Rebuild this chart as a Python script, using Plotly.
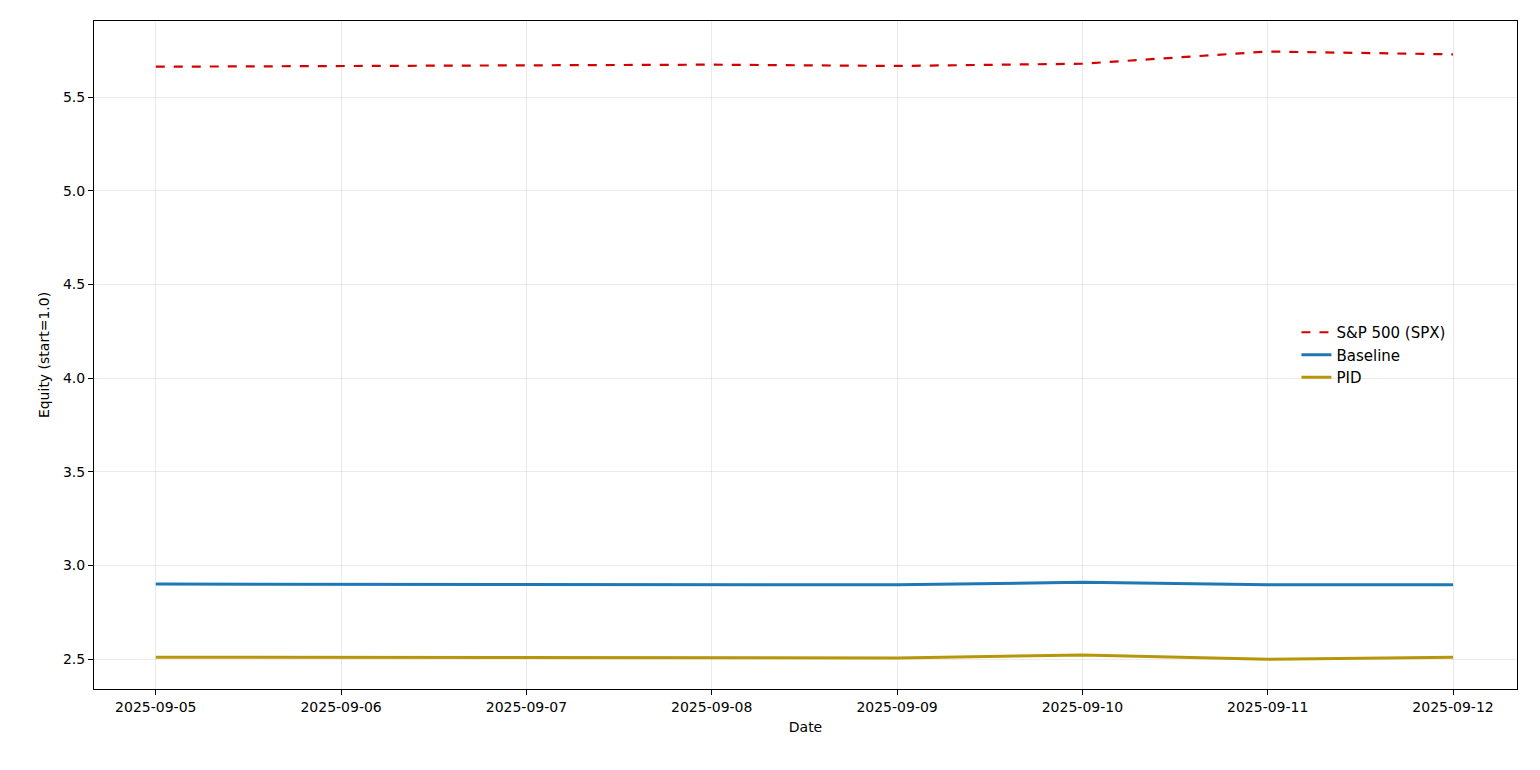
import plotly.graph_objects as go

dates = ['2025-09-05', '2025-09-06', '2025-09-07', '2025-09-08',
         '2025-09-09', '2025-09-10', '2025-09-11', '2025-09-12']
spx = [5.662, 5.665, 5.668, 5.673, 5.666, 5.678, 5.743, 5.728]
baseline = [2.900, 2.900, 2.900, 2.900, 2.896, 2.910, 2.897, 2.897]
pid = [2.510, 2.510, 2.510, 2.510, 2.506, 2.522, 2.499, 2.509]

fig = go.Figure()
fig.add_trace(go.Scatter(x=dates, y=spx, mode='lines', name='S&P 500 (SPX)',
                         line=dict(color='#d40000', width=2.2, dash='dash')))
fig.add_trace(go.Scatter(x=dates, y=baseline, mode='lines', name='Baseline',
                         line=dict(color='#1f77b4', width=3)))
fig.add_trace(go.Scatter(x=dates, y=pid, mode='lines', name='PID',
                         line=dict(color='#b8960a', width=3)))

axis_style = dict(showline=True, linecolor='black', linewidth=1, mirror=True,
                  ticks='outside', ticklen=5, tickcolor='black',
                  showgrid=True, gridcolor='rgba(0,0,0,0.08)', zeroline=False,
                  tickfont=dict(size=14))

fig.update_xaxes(type='date', range=['2025-09-04 16:00', '2025-09-12 08:17'],
                 tickvals=dates, ticktext=dates,
                 title=dict(text='Date', font=dict(size=14), standoff=8), **axis_style)
fig.update_yaxes(range=[2.34, 5.906], tick0=2.5, dtick=0.5, tickformat='.1f',
                 title=dict(text='Equity (start=1.0)', font=dict(size=14), standoff=10),
                 **axis_style)

fig.update_layout(width=1540, height=770, autosize=False,
                  margin=dict(l=86, r=31, t=13, b=89),
                  plot_bgcolor='white', paper_bgcolor='white',
                  font=dict(family='DejaVu Sans', size=14, color='black'),
                  legend=dict(x=0.845, y=0.5, xanchor='left', yanchor='middle',
                              bgcolor='rgba(255,255,255,0)', font=dict(size=15)))

fig.write_html("out.html")
